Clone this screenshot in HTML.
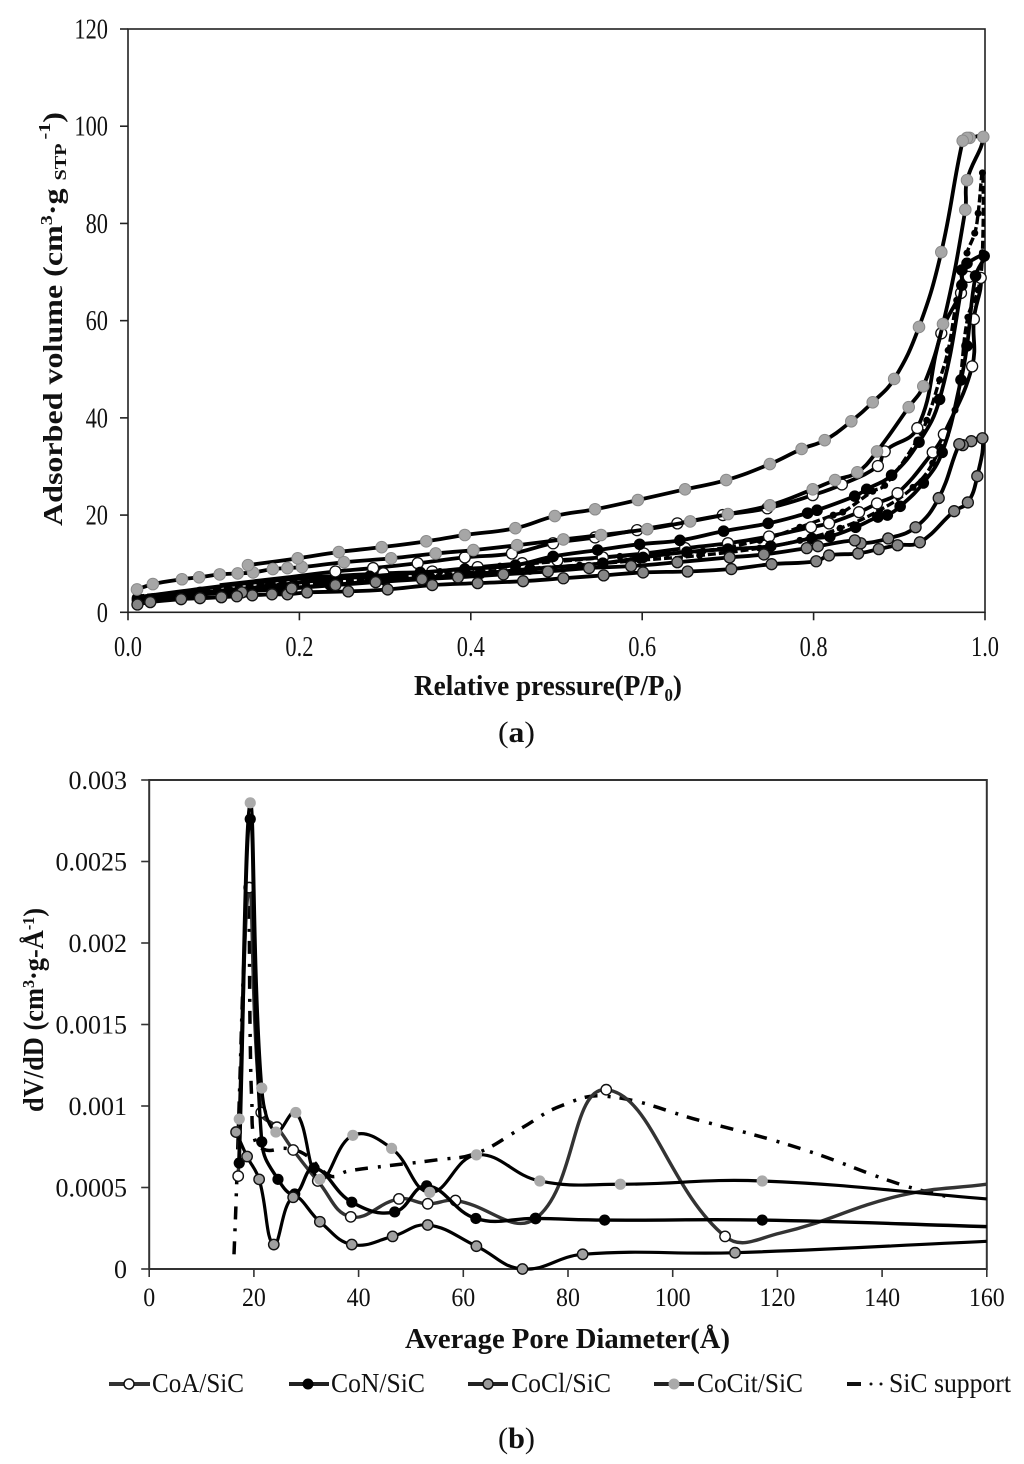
<!DOCTYPE html>
<html>
<head>
<meta charset="utf-8">
<title>Adsorption isotherms and pore size distribution</title>
<style>
html,body{margin:0;padding:0;background:#fff;}
svg{display:block;}
text{font-family:"Liberation Serif",serif;fill:#111;}
.b{font-weight:bold;}
</style>
</head>
<body>
<svg id="fig" xmlns="http://www.w3.org/2000/svg" width="1024" height="1464" viewBox="0 0 1024 1464">
<rect x="0" y="0" width="1024" height="1464" fill="#fff"/>
<g id="chartA"></g>
<g id="chartB"></g>

<text class="b" font-size="27" textLength="414" lengthAdjust="spacingAndGlyphs" transform="translate(62,526) rotate(-90)">Adsorbed volume (cm<tspan font-size="17" dy="-10">3</tspan><tspan dy="10">·g </tspan><tspan font-size="17" dy="4">STP</tspan><tspan font-size="17" dy="-16"> -1</tspan><tspan dy="12">)</tspan></text>
<text class="b" x="414" y="695" font-size="29" textLength="268" lengthAdjust="spacingAndGlyphs">Relative pressure(P/P<tspan font-size="18" dy="6">0</tspan><tspan dy="-6">)</tspan></text>
<text x="498" y="742" font-size="30" textLength="37" lengthAdjust="spacingAndGlyphs">(<tspan class="b">a</tspan>)</text>

<text class="b" font-size="28" textLength="204" lengthAdjust="spacingAndGlyphs" transform="translate(43,1112) rotate(-90)">dV/dD (cm<tspan font-size="17" dy="-9">3</tspan><tspan dy="9">·g-Å</tspan><tspan font-size="17" dy="-9">-1</tspan><tspan dy="9">)</tspan></text>
<text class="b" x="405" y="1348" font-size="28" textLength="325" lengthAdjust="spacingAndGlyphs">Average Pore Diameter(Å)</text>
<text x="498" y="1448" font-size="30" textLength="37" lengthAdjust="spacingAndGlyphs">(<tspan class="b">b</tspan>)</text>

<g>
  <g>
    <line x1="109" y1="1384" x2="150" y2="1384" stroke="#333" stroke-width="4"/>
    <circle cx="129" cy="1384" r="5" fill="#fff" stroke="#111" stroke-width="1.5"/>
    <text x="152" y="1392" font-size="27" textLength="92" lengthAdjust="spacingAndGlyphs">CoA/SiC</text>
  </g>
  <g>
    <line x1="289" y1="1384" x2="329" y2="1384" stroke="#222" stroke-width="4"/>
    <circle cx="308" cy="1384" r="5.5" fill="#000"/>
    <text x="331" y="1392" font-size="27" textLength="94" lengthAdjust="spacingAndGlyphs">CoN/SiC</text>
  </g>
  <g>
    <line x1="468" y1="1384" x2="508" y2="1384" stroke="#222" stroke-width="4"/>
    <circle cx="488" cy="1384" r="5" fill="#999" stroke="#111" stroke-width="1.5"/>
    <text x="511" y="1392" font-size="27" textLength="100" lengthAdjust="spacingAndGlyphs">CoCl/SiC</text>
  </g>
  <g>
    <line x1="654" y1="1384" x2="694" y2="1384" stroke="#222" stroke-width="4"/>
    <circle cx="674" cy="1384" r="5.5" fill="#aaa"/>
    <text x="697" y="1392" font-size="27" textLength="106" lengthAdjust="spacingAndGlyphs">CoCit/SiC</text>
  </g>
  <g>
    <line x1="847" y1="1384" x2="861" y2="1384" stroke="#111" stroke-width="4"/>
    <circle cx="871" cy="1384" r="1.5" fill="#111"/>
    <circle cx="881" cy="1384" r="1.5" fill="#111"/>
    <text x="889" y="1392" font-size="27" textLength="122" lengthAdjust="spacingAndGlyphs">SiC support</text>
  </g>
</g>
</svg>
<script>
// ---- Chart (a) tick labels
const xTicksA = ["0.0","0.2","0.4","0.6","0.8","1.0"];
const yTicksA = ["0","20","40","60","80","100","120"];
// ---- Chart (a) isotherms: relative pressure / adsorbed volume
const coaAdsP = [.011,.061,.119,.177,.236,.298,.355,.408,.460,.501,.554,.602,.650,.700,.748,.797,.818,.853,.874,.898,.939,.952,.985,.987,.995];
const coaAdsV = [3.1,4.3,5.6,6.6,7.4,8.0,8.4,9.3,10.1,10.7,11.3,12.1,13.2,14.2,15.6,17.5,18.3,20.6,22.4,24.5,32.9,36.6,50.6,60.3,68.8];
const coaDesP = [.981,.972,.949,.921,.883,.875,.833,.799,.746,.694,.641,.594,.545,.496,.448,.393,.338,.286,.242,.177,.107];
const coaDesV = [69.0,65.7,57.4,37.9,33.1,30.1,26.3,24.1,21.4,20.0,18.3,16.9,15.4,14.2,12.1,11.3,10.1,9.1,8.4,7.0,5.6];
const conAdsP = [.011,.061,.119,.177,.236,.300,.352,.411,.469,.554,.601,.652,.700,.750,.798,.819,.849,.875,.886,.901,.928,.950,.972,.979,.989,.999];
const conAdsV = [2.5,3.3,4.1,4.9,5.6,6.6,7.2,8.0,8.9,10.1,11.3,12.4,13.0,13.6,15.2,15.6,17.5,19.6,20.0,21.8,26.6,32.9,47.8,54.8,69.2,73.3];
const conDesP = [.979,.973,.973,.947,.923,.891,.862,.848,.804,.793,.747,.695,.644,.597,.548,.496,.452,.393,.341,.282,.224,.166,.084,.011];
const conDesV = [71.8,70.4,67.3,43.8,35.0,28.2,25.3,23.9,21.0,20.4,18.3,16.7,14.8,14.0,12.8,11.5,9.7,8.9,8.2,7.4,6.6,5.4,4.1,2.9];
const coclAdsP = [.011,.026,.062,.084,.109,.145,.168,.186,.209,.257,.303,.355,.408,.461,.508,.555,.601,.653,.704,.751,.803,.818,.852,.876,.898,.924,.964,.980,.991,.997];
const coclAdsV = [1.6,2.1,2.7,2.9,3.1,3.5,3.7,3.7,4.1,4.3,4.7,5.6,6.0,6.4,7.0,7.6,8.2,8.4,8.9,9.9,10.5,11.7,12.1,13.0,13.8,14.4,20.8,22.6,28.0,35.8];
const coclDesP = [.984,.974,.970,.946,.919,.887,.855,.848,.805,.792,.742,.702,.641,.587,.538,.490,.438,.385,.343,.289,.242,.191,.133,.127];
const coclDesV = [35.2,34.4,34.6,23.5,17.5,15.2,14.2,14.8,13.6,13.2,11.9,11.3,10.3,9.5,9.1,8.4,7.8,7.2,6.8,6.2,5.6,4.9,4.1,3.3];
const cocitAdsP = [.0105,.029,.063,.083,.107,.128,.146,.169,.186,.203,.252,.307,.359,.403,.454,.508,.552,.606,.656,.700,.749,.799,.825,.851,.874,.911,.928,.951,.977,.979,.998];
const cocitAdsV = [4.7,5.8,6.8,7.2,7.8,8.0,8.2,8.9,9.1,9.3,10.3,11.1,12.1,12.8,13.8,15.0,15.9,17.1,18.7,20.2,22.0,25.3,27.2,28.8,33.1,42.2,46.5,59.3,82.8,88.9,97.8];
const cocitDesP = [.982,.979,.974,.949,.923,.894,.869,.844,.813,.786,.749,.698,.650,.595,.545,.498,.452,.393,.348,.296,.246,.198,.140];
const cocitDesV = [97.6,97.6,97.0,74.1,58.7,48.0,43.2,39.3,35.4,33.6,30.5,27.2,25.3,23.1,21.2,19.8,17.3,15.9,14.6,13.4,12.4,11.1,9.7];
const sicAdsP = [.011,.107,.177,.247,.317,.387,.457,.527,.597,.667,.737,.784,.831,.877,.916,.939,.965,.971,.980,.992,.997];
const sicAdsV = [3.1,4.3,5.4,6.4,7.2,8.0,8.9,9.7,10.7,11.7,13.2,14.8,17.3,21.0,25.7,30.7,41.6,47.8,60.7,66.3,74.0];
const sicDesP = [.997,.992,.988,.979,.967,.957,.947,.932,.921,.883,.869,.834,.823,.784,.737,.671,.629,.574,.504,.434,.364,.294,.224,.154,.084,.011];
const sicDesV = [90.4,82.1,78.0,73.9,64.2,53.9,47.8,39.5,35.4,26.1,24.9,20.6,20.0,17.5,14.8,12.6,12.1,11.5,10.5,9.5,8.4,7.6,6.6,5.6,4.5,3.3];

// ---- Chart (b) tick labels
const xTicksB = ["0","20","40","60","80","100","120","140","160"];
const yTicksB = ["0","0.0005","0.001","0.0015","0.002","0.0025","0.003"];
// ---- Chart (b) pore-size distributions
const coaD = [17.0,19.1,21.4,24.4,27.5,32.2,38.5,47.7,53.2,58.5,73.8,87.3,110,120.5,143.4,160];
const coaY = [.00057,.00234,.00096,.00087,.00073,.00054,.00032,.00043,.00040,.00042,.00031,.00110,.00020,.00022,.00045,.00052];
const conD = [17.2,19.3,21.5,24.6,27.8,31.5,38.7,46.9,53.0,62.4,73.8,87.0,117.1,160];
const conY = [.00065,.00276,.00078,.00055,.00046,.00062,.00041,.00035,.00051,.00031,.00031,.00030,.00030,.00026];
const coclD = [16.6,18.7,21.0,23.8,27.5,32.6,38.7,46.5,53.2,62.5,71.3,82.8,111.9,160];
const coclY = [.00084,.00069,.00055,.00015,.00044,.00029,.00015,.00020,.00027,.00014,0,.00009,.00010,.00017];
const cocitD = [17.2,19.3,21.5,24.2,28.0,32.6,38.9,46.3,53.6,62.5,74.6,90.0,117.1,160];
const cocitY = [.00092,.00286,.00111,.00084,.00096,.00055,.00082,.00074,.00047,.00070,.00054,.00052,.00054,.00043];
const sicD = [16.2,16.6,17.2,18.1,18.9,19.3,19.6,20.2,22.3,26.1,29.9,34.7,37.9,44.8,55.1,62.5,70.9,78.6,87.3,105.3,124.3,143.4,152.9];
const sicY = [.00009,.00042,.00103,.0019,.00233,.0014,.00103,.00079,.00073,.00074,.00070,.00057,.00060,.00063,.00067,.00071,.00086,.00100,.00106,.00091,.00074,.00052,.00044];

const NS = 'http://www.w3.org/2000/svg';
function mk(tag, parent) {
  const e = document.createElementNS(NS, tag);
  parent.appendChild(e);
  return e;
}
// axis functions
const A = {x0:128, x1:985, y0:612.3, y1:29, xMax:1, yMax:120};
const B = {x0:149.2, x1:986.8, y0:1269, y1:780, xMax:160, yMax:0.003};
function sx(ax, v) { return ax.x0 + (ax.x1 - ax.x0) * v / ax.xMax; }
function sy(ax, v) { return ax.y0 - (ax.y0 - ax.y1) * v / ax.yMax; }

function smoothPath(pts) {
  const t = 0.42;
  let d = 'M' + pts[0][0].toFixed(2) + ' ' + pts[0][1].toFixed(2);
  const dist = (a, b) => Math.hypot(a[0] - b[0], a[1] - b[1]) || 0.001;
  for (let i = 0; i < pts.length - 1; i++) {
    const p0 = pts[i - 1] || pts[i], p1 = pts[i], p2 = pts[i + 1], p3 = pts[i + 2] || p2;
    const d1 = dist(p0, p1), d2 = dist(p1, p2), d3 = dist(p2, p3);
    const k1 = t * d2 / (d1 + d2), k2 = t * d2 / (d2 + d3);
    const c1x = p1[0] + (p2[0] - p0[0]) * k1, c1y = p1[1] + (p2[1] - p0[1]) * k1;
    const c2x = p2[0] - (p3[0] - p1[0]) * k2, c2y = p2[1] - (p3[1] - p1[1]) * k2;
    d += 'C' + c1x.toFixed(2) + ' ' + c1y.toFixed(2) + ' ' + c2x.toFixed(2) + ' ' + c2y.toFixed(2) + ' ' + p2[0].toFixed(2) + ' ' + p2[1].toFixed(2);
  }
  return d;
}

function drawFrame(g, ax, name, stroke, sw) {
  const r = mk('rect', g);
  r.setAttribute('x', ax.x0);
  r.setAttribute('y', ax.y1);
  r.setAttribute('width', ax.x1 - ax.x0);
  r.setAttribute('height', ax.y0 - ax.y1);
  r.setAttribute('fill', 'none');
  r.setAttribute('stroke', stroke);
  r.setAttribute('stroke-width', sw);
  
  
}
function drawXTicks(g, ax, labels, name, baseline, size, sc, stroke) {
  labels.forEach((lab, i) => {
    const x = ax.x0 + (ax.x1 - ax.x0) * i / (labels.length - 1);
    const l = mk('line', g);
    l.setAttribute('x1', x);
    l.setAttribute('x2', x);
    l.setAttribute('y1', ax.y0);
    l.setAttribute('y2', ax.y0 + 8);
    l.setAttribute('stroke', stroke);
    l.setAttribute('stroke-width', 1.6);
    
    
    const t = mk('text', g);
    t.textContent = lab;
    t.setAttribute('text-anchor', 'middle');
    t.setAttribute('font-size', size);
    t.setAttribute('transform', 'translate(' + x + ',' + baseline + ') scale(' + sc + ',1)');
    
    
  });
}
function drawYTicks(g, ax, labels, name, right, size, sc, dy, stroke) {
  labels.forEach((lab, i) => {
    const y = ax.y0 - (ax.y0 - ax.y1) * i / (labels.length - 1);
    const l = mk('line', g);
    l.setAttribute('x1', ax.x0 - 8);
    l.setAttribute('x2', ax.x0);
    l.setAttribute('y1', y);
    l.setAttribute('y2', y);
    l.setAttribute('stroke', stroke);
    l.setAttribute('stroke-width', 1.6);
    
    
    const t = mk('text', g);
    t.textContent = lab;
    t.setAttribute('text-anchor', 'end');
    t.setAttribute('font-size', size);
    t.setAttribute('transform', 'translate(' + right + ',' + (y + dy) + ') scale(' + sc + ',1)');
    
    
  });
}
function drawSeries(g, ax, xs, ys, name, opts) {
  const group = mk('g', g);
  
  
  const pts = xs.map((v, i) => [sx(ax, v), sy(ax, ys[i])]);
  const p = mk('path', group);
  p.setAttribute('d', smoothPath(pts));
  p.setAttribute('fill', 'none');
  p.setAttribute('stroke', opts.stroke);
  p.setAttribute('stroke-width', opts.width);
  p.setAttribute('stroke-linejoin', 'round');
  if (opts.dash) p.setAttribute('stroke-dasharray', opts.dash);
  
  
  if (!opts.r) return;
  const lo = opts.markMin === undefined ? -Infinity : opts.markMin;
  const hi = opts.markMax === undefined ? Infinity : opts.markMax;
  pts.forEach((pt, i) => {
    if (xs[i] < lo || xs[i] > hi) return;
    const c = mk('circle', group);
    c.setAttribute('cx', pt[0].toFixed(2));
    c.setAttribute('cy', pt[1].toFixed(2));
    c.setAttribute('r', opts.r);
    c.setAttribute('fill', opts.fill);
    if (opts.edge) {
      c.setAttribute('stroke', opts.edge);
      c.setAttribute('stroke-width', opts.edgeWidth);
    }
    
    
  });
}

const gA = document.getElementById('chartA');
drawFrame(gA, A, 'chart-a', '#222', 1.6);
drawXTicks(gA, A, xTicksA, 'chart-a', 656, 28, 0.8, '#222');
drawYTicks(gA, A, yTicksA, 'chart-a', 108, 28, 0.8, 9.5, '#222');
const wA = 3.8;
drawSeries(gA, A, sicAdsP.concat(sicDesP), sicAdsV.concat(sicDesV), 'isotherm-sic', {stroke:'#000', width:3.4, dash:'8 3', r:3.5, fill:'#000'});
drawSeries(gA, A, coaAdsP.concat(coaDesP), coaAdsV.concat(coaDesV), 'isotherm-coa', {stroke:'#000', width:wA, r:5.5, fill:'#fff', edge:'#111', edgeWidth:1.3, markMin:0.24});
drawSeries(gA, A, conAdsP.concat(conDesP), conAdsV.concat(conDesV), 'isotherm-con', {stroke:'#000', width:wA, r:5.8, fill:'#000'});
drawSeries(gA, A, coclAdsP.concat(coclDesP), coclAdsV.concat(coclDesV), 'isotherm-cocl', {stroke:'#000', width:wA, r:5.5, fill:'#858585', edge:'#111', edgeWidth:1.3});
drawSeries(gA, A, cocitAdsP.concat(cocitDesP), cocitAdsV.concat(cocitDesV), 'isotherm-cocit', {stroke:'#000', width:wA, r:5.8, fill:'#a6a6a6', edge:'#8a8a8a', edgeWidth:1});

const gB = document.getElementById('chartB');
drawFrame(gB, B, 'chart-b', '#333', 2);
drawXTicks(gB, B, xTicksB, 'chart-b', 1306, 26, 0.92, '#333');
drawYTicks(gB, B, yTicksB, 'chart-b', 127, 26, 1, 9, '#333');
drawSeries(gB, B, sicD, sicY, 'distribution-sic', {stroke:'#000', width:3.5, dash:'13 10 3 9'});
drawSeries(gB, B, coaD, coaY, 'distribution-coa', {stroke:'#333', width:3.4, r:5.2, fill:'#fff', edge:'#111', edgeWidth:1.4, markMax:111});
drawSeries(gB, B, conD, conY, 'distribution-con', {stroke:'#000', width:3.4, r:5.6, fill:'#000', markMax:159});
drawSeries(gB, B, coclD, coclY, 'distribution-cocl', {stroke:'#000', width:3.2, r:5.2, fill:'#a0a0a0', edge:'#111', edgeWidth:1.4, markMax:159});
drawSeries(gB, B, cocitD, cocitY, 'distribution-cocit', {stroke:'#000', width:3.2, r:5.6, fill:'#aaa', markMax:159});
</script>
</body>
</html>
